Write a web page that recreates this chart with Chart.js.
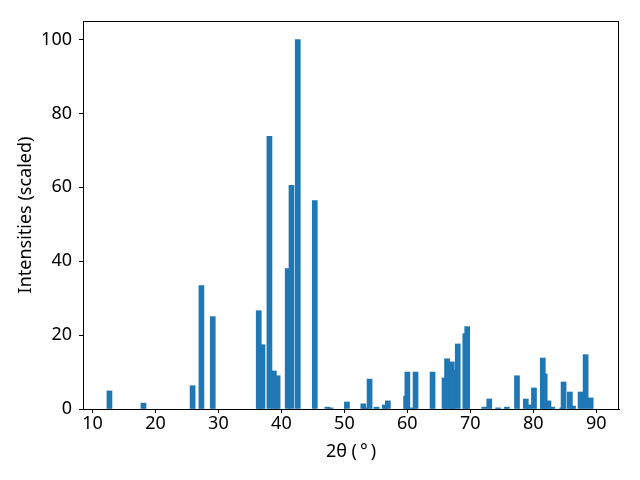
<!DOCTYPE html>
<html>
<head>
<meta charset="utf-8">
<script src="https://cdn.jsdelivr.net/npm/chart.js@4/dist/chart.umd.min.js"></script>
<style>
  html, body { margin: 0; padding: 0; background: #ffffff; }
  #wrap { width: 640px; height: 480px; }
</style>
</head>
<body>
<div id="wrap"><canvas id="grafico" width="640" height="480"></canvas></div>
<script>
// --- DATOS ---
const posiciones2Theta = [
    12.7, 18.1, 25.9, 27.3, 29.1,
    36.4, 37.0, 38.1, 38.8, 39.4, 41.0, 41.6, 42.6, 45.3,
    47.3, 47.8, 50.4, 53.0, 53.4, 54.0, 55.1, 56.4, 56.9,
    59.8, 60.0, 60.7, 61.3, 64.0, 65.9, 66.3, 67.05, 67.2, 68.0, 69.2, 69.5,
    72.2, 73.0, 74.4, 75.8, 77.4, 78.8, 79.3, 80.1, 81.5, 81.8, 82.4, 83.0,
    84.6, 84.8, 85.8, 86.3, 87.5, 88.3, 89.1
];
const intensidades = [
    4.9, 1.6, 6.3, 33.4, 25.0,
    26.6, 17.4, 73.8, 10.3, 9.0, 38.0, 60.5, 100, 56.4,
    0.5, 0.3, 1.9, 1.4, 0.3, 8.1, 0.5, 1.1, 2.2,
    3.5, 10.0, 0.3, 10.0, 10.0, 8.4, 13.6, 12.75, 10.6, 17.6, 20.4, 22.3,
    0.5, 2.7, 0.3, 0.5, 9.0, 2.7, 1.1, 5.7, 13.8, 9.5, 2.2, 0.5,
    0.3, 7.3, 4.6, 0.8, 4.6, 14.7, 3.0
];
const ticksX = [10, 20, 30, 40, 50, 60, 70, 80, 90];
const ticksY = [0, 20, 40, 60, 80, 100];
const ANCHO_BARRA = 0.8; // en grados

// --- ESTILO ---
const AZUL = '#1f77b4';
const FUENTE = { family: 'Noto Sans', size: 18 };

// marco completo alrededor del area del grafico
const marcoPlugin = {
    id: 'marco',
    afterDatasetsDraw(chart) {
        const { ctx, chartArea: a } = chart;
        ctx.save();
        ctx.strokeStyle = '#000000';
        ctx.lineWidth = 1;
        ctx.strokeRect(a.left + 0.5, a.top + 0.5, a.right - a.left - 1, a.bottom - a.top);
        ctx.restore();
    }
};

const ctx = document.getElementById('grafico').getContext('2d');
const grafico = new Chart(ctx, {
    type: 'bar',
    data: {
        datasets: [{
            data: posiciones2Theta.map((x, i) => ({ x: x, y: intensidades[i] })),
            backgroundColor: AZUL,
            borderWidth: 0,
            barThickness: 5,
            grouped: false
        }]
    },
    options: {
        responsive: false,
        animation: false,
        layout: { padding: { top: 21, right: 21, left: 0, bottom: 0 } },
        plugins: { legend: { display: false }, tooltip: { enabled: false } },
        scales: {
            x: {
                type: 'linear',
                min: 8.5,
                max: 93.6,
                offset: false,
                afterBuildTicks: axis => { axis.ticks = ticksX.map(v => ({ value: v })); },
                afterFit: axis => { axis.height = 71; },
                grid: { offset: false, drawOnChartArea: false, drawTicks: true, tickLength: 4, color: '#000000' },
                border: { color: '#000000' },
                ticks: { color: '#000000', font: FUENTE, maxRotation: 0, padding: 0 },
                title: { display: true, text: '2θ (\u2009°\u2009)', color: '#000000', font: FUENTE, padding: { top: 2, bottom: 17 } }
            },
            y: {
                min: 0,
                max: 105,
                afterBuildTicks: axis => { axis.ticks = ticksY.map(v => ({ value: v })); },
                afterFit: axis => { axis.width = 83; },
                grid: { drawOnChartArea: false, drawTicks: true, tickLength: 4, color: '#000000' },
                border: { color: '#000000' },
                ticks: { color: '#000000', font: FUENTE, padding: 7 },
                title: { display: true, text: 'Intensities (scaled)', color: '#000000', font: FUENTE, padding: { top: 15, bottom: 0 } }
            }
        }
    },
    plugins: [marcoPlugin]
});

// ancho de barra en pixeles a partir de la escala x
const escalaX = grafico.scales.x;
grafico.data.datasets[0].barThickness = escalaX.getPixelForValue(ANCHO_BARRA) - escalaX.getPixelForValue(0);
grafico.update();
</script>
</body>
</html>
